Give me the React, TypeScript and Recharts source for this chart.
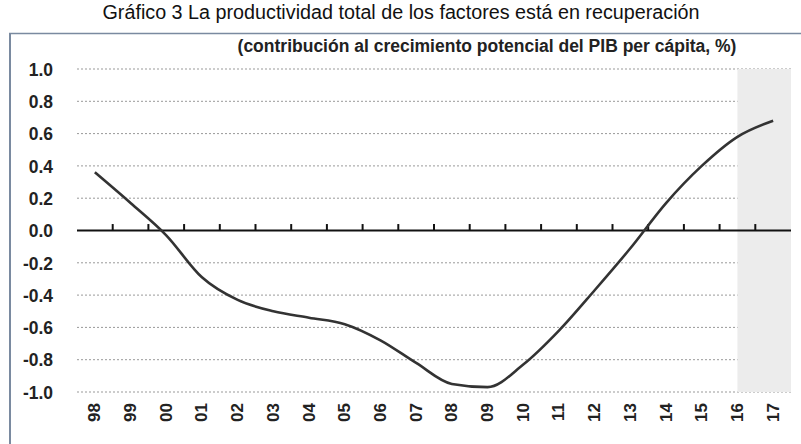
import React from "react";
import {
  LineChart,
  Line,
  XAxis,
  YAxis,
  CartesianGrid,
  ReferenceLine,
  ReferenceArea,
} from "recharts";

const years = ["98", "99", "00", "01", "02", "03", "04", "05", "06", "07", "08", "09", "10", "11", "12", "13", "14", "15", "16", "17"];
const tfp = [0.36, 0.17, -0.03, -0.29, -0.43, -0.5, -0.54, -0.58, -0.68, -0.82, -0.95, -0.97, -0.83, -0.62, -0.37, -0.11, 0.17, 0.4, 0.58, 0.68];
const yTicks = [-1, -0.8, -0.6, -0.4, -0.2, 0, 0.2, 0.4, 0.6, 0.8, 1];

const data = years.map((y, i) => ({ idx: i, year: y, tfp: tfp[i] }));
const boundaries = years.slice(0, -1).map((_, i) => i + 0.5);

const sans = "'Liberation Sans', Arial, sans-serif";

const YearTick = ({ x, y, payload }: any) => (
  <text
    x={x}
    y={y + 3}
    transform={`rotate(-90, ${x}, ${y + 3})`}
    textAnchor="end"
    dominantBaseline="central"
    fontFamily={sans}
    fontWeight="bold"
    fontSize={17}
    fill="#222"
  >
    {years[payload.value]}
  </text>
);

const ValueTick = ({ x, y, payload }: any) => (
  <text
    x={x}
    y={y}
    textAnchor="end"
    dominantBaseline="central"
    fontFamily={sans}
    fontWeight="bold"
    fontSize={19}
    fill="#222"
    transform={`translate(${x}, 0) scale(0.92, 1) translate(${-x}, 0)`}
  >
    {payload.value.toFixed(1)}
  </text>
);

const App = () => {
  return (
    <div style={{ position: "absolute", left: 0, top: 0, width: 801, height: 444, background: "#fff" }}>
      <LineChart
        width={801}
        height={444}
        data={data}
        margin={{ top: 69, right: 10, bottom: 0, left: 0 }}
        style={{ position: "absolute", left: 0, top: 0 }}
      >
        <ReferenceArea x1={18} x2={19.5} y1={-1} y2={1} fill="#ececec" fillOpacity={1} stroke="none" />
        <CartesianGrid vertical={false} stroke="#999" strokeDasharray="2 2" />
        <XAxis
          dataKey="idx"
          type="number"
          domain={[-0.5, 19.5]}
          ticks={data.map((d) => d.idx)}
          interval={0}
          tick={<YearTick />}
          tickLine={false}
          axisLine={false}
          height={52}
        />
        <YAxis
          domain={[-1, 1]}
          ticks={yTicks}
          width={77}
          tickLine={false}
          axisLine={false}
          tickMargin={18}
          tick={<ValueTick />}
        />
        <ReferenceLine y={0} stroke="#111" strokeWidth={2} />
        {boundaries.map((b) => (
          <ReferenceLine
            key={b}
            segment={[{ x: b, y: 0 }, { x: b, y: 0.04 }]}
            stroke="#111"
            strokeWidth={2}
          />
        ))}
        <Line
          type="monotone"
          dataKey="tfp"
          stroke="#333"
          strokeWidth={2.6}
          dot={false}
          isAnimationActive={false}
        />
      </LineChart>
      <svg width={801} height={66} style={{ position: "absolute", left: 0, top: 0 }}>
        <text
          x={401}
          y={19}
          textAnchor="middle"
          fontFamily={sans}
          fontSize={20}
          fill="#111"
          textLength={597}
          lengthAdjust="spacingAndGlyphs"
        >
          Gráfico 3 La productividad total de los factores está en recuperación
        </text>
        <line x1={9} y1={33.5} x2={801} y2={33.5} stroke="#7a8aa0" strokeWidth={1.5} />
        <text
          x={487}
          y={52}
          textAnchor="middle"
          fontFamily={sans}
          fontWeight="bold"
          fontSize={17.5}
          fill="#222"
        >
          (contribución al crecimiento potencial del PIB per cápita, %)
        </text>
      </svg>
      <div style={{ position: "absolute", left: 9, top: 33, width: 1.5, height: 411, background: "#7a8aa0" }} />
    </div>
  );
};

export default App;
